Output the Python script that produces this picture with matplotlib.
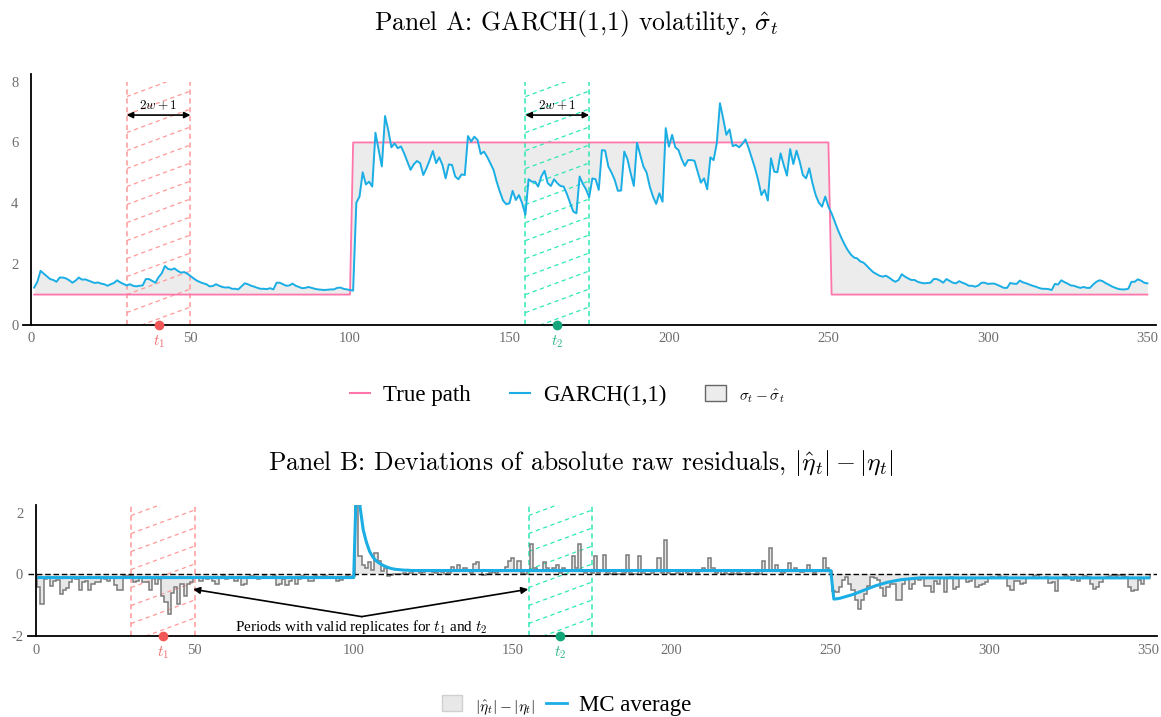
import numpy as np
import matplotlib.pyplot as plt
from matplotlib.lines import Line2D
from matplotlib.patches import Patch, Rectangle

plt.rcParams["mathtext.fontset"] = "cm"
plt.rcParams["font.family"] = ["Liberation Serif", "DejaVu Serif"]
plt.rcParams["axes.unicode_minus"] = False

# ---- data -------------------------------------------------------------
t = np.arange(1, 351)

# true volatility path: low / high / low regime
true_sigma = [1.0] * 100 + [6.0] * 150 + [1.0] * 100

# GARCH(1,1) fitted volatility
garch_sigma = [
    1.23, 1.42, 1.78, 1.69, 1.60, 1.51, 1.48, 1.42, 1.56, 1.56,
    1.53, 1.47, 1.39, 1.46, 1.56, 1.49, 1.50, 1.46, 1.42, 1.38,
    1.40, 1.36, 1.34, 1.29, 1.34, 1.38, 1.47, 1.40, 1.35, 1.30,
    1.34, 1.29, 1.27, 1.29, 1.30, 1.51, 1.51, 1.45, 1.39, 1.57,
    1.70, 1.94, 1.84, 1.82, 1.86, 1.78, 1.72, 1.74, 1.69, 1.61,
    1.53, 1.46, 1.41, 1.37, 1.34, 1.27, 1.28, 1.34, 1.29, 1.25,
    1.23, 1.24, 1.19, 1.19, 1.17, 1.27, 1.37, 1.34, 1.29, 1.26,
    1.22, 1.19, 1.19, 1.18, 1.21, 1.17, 1.39, 1.39, 1.34, 1.29,
    1.30, 1.36, 1.29, 1.25, 1.21, 1.22, 1.25, 1.22, 1.19, 1.17,
    1.16, 1.15, 1.16, 1.17, 1.17, 1.22, 1.23, 1.19, 1.17, 1.15,
    1.13, 4.02, 4.22, 5.02, 4.62, 4.71, 4.55, 6.32, 5.75, 5.21,
    6.87, 6.41, 5.84, 5.97, 5.81, 5.87, 5.64, 5.37, 5.10, 5.28,
    5.39, 5.32, 4.93, 5.15, 5.42, 5.72, 5.32, 5.51, 5.26, 4.82,
    5.28, 5.26, 4.88, 4.79, 4.95, 4.93, 6.21, 6.03, 6.19, 6.08,
    5.62, 5.70, 5.53, 5.32, 5.10, 4.71, 4.38, 4.09, 3.97, 4.00,
    4.41, 4.11, 4.27, 4.00, 3.62, 4.79, 4.71, 4.71, 4.55, 4.88,
    5.07, 4.66, 4.57, 4.79, 4.66, 4.57, 4.55, 4.31, 4.02, 3.73,
    3.67, 4.88, 4.64, 4.46, 4.20, 4.82, 4.79, 4.44, 5.75, 5.73,
    5.21, 5.01, 4.77, 4.41, 4.42, 5.70, 5.45, 4.99, 4.57, 5.99,
    5.59, 5.21, 5.01, 4.55, 4.22, 3.98, 4.33, 4.05, 6.47, 5.86,
    6.25, 5.84, 5.75, 5.45, 5.23, 5.42, 5.42, 5.40, 5.04, 4.68,
    4.82, 4.46, 5.51, 5.42, 5.97, 7.29, 6.79, 6.25, 6.43, 5.88,
    5.92, 5.84, 5.95, 6.10, 5.81, 5.48, 5.15, 4.75, 4.27, 4.44,
    4.09, 5.48, 5.04, 5.02, 5.64, 5.26, 4.91, 5.78, 5.29, 5.73,
    5.37, 4.93, 4.82, 5.15, 4.66, 4.27, 4.02, 3.89, 4.22, 3.89,
    3.67, 3.40, 3.12, 2.88, 2.66, 2.47, 2.32, 2.22, 2.19, 2.09,
    2.05, 1.95, 1.84, 1.74, 1.68, 1.62, 1.59, 1.62, 1.56, 1.48,
    1.42, 1.48, 1.67, 1.59, 1.53, 1.48, 1.48, 1.42, 1.39, 1.37,
    1.38, 1.39, 1.51, 1.51, 1.46, 1.39, 1.51, 1.45, 1.39, 1.37,
    1.44, 1.39, 1.35, 1.29, 1.29, 1.26, 1.30, 1.39, 1.39, 1.35,
    1.36, 1.36, 1.32, 1.27, 1.22, 1.22, 1.38, 1.36, 1.35, 1.46,
    1.40, 1.37, 1.33, 1.29, 1.26, 1.22, 1.19, 1.19, 1.18, 1.15,
    1.35, 1.33, 1.47, 1.41, 1.36, 1.30, 1.29, 1.25, 1.22, 1.25,
    1.22, 1.22, 1.33, 1.42, 1.47, 1.44, 1.37, 1.32, 1.26, 1.22,
    1.18, 1.17, 1.17, 1.19, 1.42, 1.42, 1.50, 1.46, 1.39, 1.37,
]

# |eta_hat_t| - |eta_t| for one replicate
resid_dev = [
    -0.41, -0.95, -0.15, -0.12, -0.36, -0.20, -0.18, -0.65, -0.50, -0.45,
    -0.25, -0.10, -0.15, -0.50, -0.25, -0.20, -0.50, -0.30, -0.25, -0.25,
    -0.12, -0.15, -0.20, -0.12, -0.35, -0.50, -0.52, -0.05, -0.05, -0.05,
    -0.25, -0.20, -0.10, -0.25, -0.25, -0.50, -0.10, -0.30, -0.15, -0.70,
    -0.90, -1.28, -0.60, -0.40, -0.95, -0.30, -0.70, -0.30, -0.25, -0.10,
    -0.12, -0.20, -0.10, -0.15, -0.08, -0.20, -0.30, -0.12, -0.05, -0.15,
    -0.12, -0.08, -0.20, -0.10, -0.35, -0.30, -0.10, -0.05, -0.08, -0.15,
    -0.12, -0.05, -0.10, -0.12, -0.05, -0.35, -0.32, -0.15, -0.35, -0.20,
    -0.10, -0.30, -0.15, -0.05, -0.10, -0.22, -0.20, -0.05, -0.10, -0.12,
    -0.05, -0.10, -0.08, -0.12, -0.20, -0.18, -0.10, -0.05, -0.12, -0.05,
    3.00, 0.60, 0.30, 0.20, 0.40, 0.15, 0.70, 0.45, 0.10, 0.20,
    -0.05, -0.02, 0.02, 0.03, 0.02, 0.05, 0.03, 0.05, 0.12, 0.10,
    0.05, 0.08, 0.15, 0.15, 0.08, 0.05, 0.10, 0.08, 0.03, 0.05,
    0.25, 0.10, 0.30, 0.10, 0.20, 0.15, 0.05, 0.35, 0.40, 0.10,
    -0.03, 0.02, 0.05, 0.08, 0.05, 0.10, 0.15, 0.25, 0.45, 0.55,
    0.10, 0.45, 0.05, 0.02, 0.10, 1.00, 0.20, 0.10, 0.15, 0.40,
    0.20, 0.10, 0.20, 0.30, 0.05, 0.20, 0.15, 0.10, 0.60, 0.20,
    1.00, 0.10, 0.05, 0.15, 0.05, 0.60, 0.05, 0.10, 0.65, 0.05,
    0.02, 0.05, 0.03, 0.02, 0.05, 0.65, 0.05, 0.02, 0.03, 0.60,
    0.05, 0.02, 0.03, 0.05, 0.10, 0.55, 0.05, 1.12, 0.05, 0.02,
    0.03, 0.05, 0.02, 0.10, 0.05, 0.02, 0.15, 0.05, 0.10, 0.20,
    0.10, 0.55, 0.20, 0.05, 0.10, 0.02, 0.05, 0.03, 0.05, 0.02,
    0.05, 0.03, 0.02, 0.05, 0.02, 0.03, 0.05, 0.02, 0.43, 0.10,
    0.85, 0.10, 0.30, 0.10, 0.05, 0.10, 0.37, 0.15, 0.20, 0.10,
    0.08, 0.10, 0.32, 0.10, 0.05, 0.10, 0.10, 0.55, 0.20, 0.10,
    -0.55, -0.57, -0.41, -0.19, -0.09, -0.30, -0.52, -0.84, -1.13, -0.84,
    -0.63, -0.36, -0.09, -0.12, -0.17, -0.45, -0.71, -0.41, -0.30, -0.30,
    -0.84, -0.84, -0.30, -0.15, -0.46, -0.30, -0.10, -0.19, -0.12, -0.36,
    -0.36, -0.57, -0.20, -0.30, -0.10, -0.57, -0.10, -0.08, -0.46, -0.40,
    -0.10, -0.10, -0.25, -0.20, -0.10, -0.41, -0.35, -0.30, -0.25, -0.10,
    -0.08, -0.10, -0.05, -0.10, -0.08, -0.36, -0.50, -0.22, -0.20, -0.30,
    -0.28, -0.10, -0.10, -0.05, -0.03, -0.10, -0.10, -0.08, -0.28, -0.25,
    -0.54, -0.12, -0.10, -0.05, -0.08, -0.19, -0.08, -0.22, -0.12, -0.05,
    -0.08, -0.30, -0.46, -0.40, -0.25, -0.10, -0.07, -0.06, -0.03, -0.05,
    -0.03, -0.05, -0.08, -0.41, -0.55, -0.50, -0.19, -0.30, -0.12, -0.10,
]

# Monte Carlo average of the same deviation
mc_average = (
    [-0.10] * 100
    + [3.50, 2.20, 1.45, 1.05, 0.75, 0.57, 0.45, 0.37, 0.31, 0.26,
       0.22, 0.19, 0.17, 0.16, 0.15, 0.14, 0.14, 0.13, 0.13, 0.13]
    + [0.13] * 130
    + [-0.80, -0.79, -0.77, -0.74, -0.71, -0.68, -0.65, -0.61, -0.57, -0.53,
       -0.49, -0.45, -0.41, -0.37, -0.34, -0.31, -0.28, -0.25, -0.23, -0.21,
       -0.19, -0.17, -0.16, -0.15, -0.14, -0.13, -0.12]
    + [-0.11] * 73
)

T1, T2, W = 40, 165, 10
xticks = [0, 50, 100, 150, 200, 250, 300, 350]

# ---- style ------------------------------------------------------------
PINK = "#ff77aa"
BLUE = "#1aaee5"
HATCH_RED = "#ff9a9a"
HATCH_GREEN = "#2ee8b6"
DOT_RED = "#f25757"
DOT_GREEN = "#13a67a"
TICK_GRAY = "#6e6e6e"

W_PX, H_PX = 1161, 717
fig = plt.figure(figsize=(W_PX / 100, H_PX / 100), dpi=100)

axA = fig.add_axes([23 / W_PX, (H_PX - 325) / H_PX, 1133 / W_PX, 251 / H_PX])
axB = fig.add_axes([27.75 / W_PX, (H_PX - 636) / H_PX, 1129.5 / W_PX, 130.7 / H_PX])


def style_axes(ax, ylim, yticks, xpad, ypad):
    ax.set_xlim(-2.5, 352.7)
    ax.set_ylim(*ylim)
    ax.autoscale(False)
    for side in ("top", "right"):
        ax.spines[side].set_visible(False)
    ax.spines["left"].set_position(("data", 0))
    for side in ("left", "bottom"):
        ax.spines[side].set_linewidth(1.3)
        ax.spines[side].set_color("black")
    ax.set_xticks(xticks)
    ax.set_yticks(yticks)
    ax.tick_params(axis="x", length=0, pad=xpad, labelsize=10.5, labelcolor=TICK_GRAY)
    ax.tick_params(axis="y", length=0, pad=ypad, labelsize=10.5, labelcolor=TICK_GRAY)
    ax.patch.set_visible(False)


def shade_window(ax, lo, hi, top, color):
    """Dashed outline plus dashed diagonal hatching for a replicate window."""
    pos = ax.get_position()
    x0, x1 = ax.get_xlim()
    y0, y1 = ax.get_ylim()
    dx = (x1 - x0) / (pos.width * W_PX)
    dy = (y1 - y0) / (pos.height * H_PX)
    bottom = y0
    clip = Rectangle((lo, bottom), hi - lo, top - bottom, transform=ax.transData,
                     fill=False, lw=0)
    ax.add_patch(clip)
    slope = 0.37 * dy / dx
    gap = 18 * dy
    start = bottom - slope * (hi - lo)
    n = int((top - start) / gap) + 2
    for k in range(n):
        yy = start + k * gap
        ln, = ax.plot([lo, hi], [yy, yy + slope * (hi - lo)], color=color, lw=0.9,
                      dashes=(3.4, 2.8), zorder=1.5)
        ln.set_clip_path(clip)
    for x in (lo, hi):
        ax.plot([x, x], [bottom, top], color=color, lw=1.1, dashes=(3.4, 2.4),
                zorder=1.6, clip_on=False)


def mark_time(ax, tt, y, label, dot_color, text_color, offset):
    ax.plot([tt], [y], "o", ms=6, color=dot_color, zorder=6, clip_on=False)
    ax.annotate(label, xy=(tt, y), xytext=(0, offset), textcoords="offset points",
                ha="center", va="top", fontsize=11, color=text_color)


# ---- Panel A ----------------------------------------------------------
style_axes(axA, (0, 8.25), [0, 2, 4, 6, 8], xpad=5, ypad=9)
axA.fill_between(t, true_sigma, garch_sigma, color="#ececec", lw=0, zorder=0.5)
axA.plot(t, true_sigma, color=PINK, lw=1.3, zorder=2)
axA.plot(t, garch_sigma, color=BLUE, lw=1.4, zorder=3)
axA.axhline(0, color="black", lw=1.0, dashes=(4, 2), zorder=4)

for tt, col in ((T1, HATCH_RED), (T2, HATCH_GREEN)):
    shade_window(axA, tt - W, tt + W, 8.0, col)
    axA.annotate("", xy=(tt - W, 6.9), xytext=(tt + W, 6.9),
                 arrowprops=dict(arrowstyle="<|-|>", color="black", lw=1.2,
                                 mutation_scale=9, shrinkA=0, shrinkB=0), zorder=5)
    axA.text(tt, 6.98, "$2w+1$", ha="center", va="bottom", fontsize=9.5)

mark_time(axA, T1, 0, "$t_1$", DOT_RED, "#f07070", -6)
mark_time(axA, T2, 0, "$t_2$", DOT_GREEN, "#2bb58a", -6)

# ---- Panel B ----------------------------------------------------------
style_axes(axB, (-2, 2.25), [-2, 0, 2], xpad=6, ypad=9)
edges = np.arange(0.5, 351.5, 1.0)
axB.stairs(resid_dev, edges, baseline=0, fill=True, color="#e8e8e8", zorder=1)
axB.stairs(resid_dev, edges, baseline=0, fill=False, edgecolor="#7a7a7a", lw=1.1, zorder=2)
axB.axhline(0, color="black", lw=1.0, dashes=(4, 2), zorder=3)
axB.plot(t, mc_average, color=BLUE, lw=2.2, zorder=4)

for tt, col in ((T1, HATCH_RED), (T2, HATCH_GREEN)):
    shade_window(axB, tt - W, tt + W, 2.25, col)

mark_time(axB, T1, -2, "$t_1$", DOT_RED, "#f07070", -6)
mark_time(axB, T2, -2, "$t_2$", DOT_GREEN, "#2bb58a", -6)

for tip in ((T1 + W - 0.5, -0.48), (T2 - W - 0.1, -0.48)):
    axB.annotate("", xy=tip, xytext=(102.5, -1.37),
                 arrowprops=dict(arrowstyle="-|>", color="black", lw=1.2,
                                 mutation_scale=10, shrinkA=0, shrinkB=0), zorder=5)
axB.text(102.5, -1.71, "Periods with valid replicates for $t_1$ and $t_2$",
         ha="center", va="center", fontsize=11)

# ---- titles -----------------------------------------------------------
fig.text(0.4966, 0.958, r"Panel A: GARCH(1,1) volatility, $\hat{\sigma}_t$",
         ha="center", va="baseline", fontsize=18.5, family="cmr10")
fig.text(0.5004, 0.3445, r"Panel B: Deviations of absolute raw residuals, $|\hat{\eta}_t| - |\eta_t|$",
         ha="center", va="baseline", fontsize=18.5, family="cmr10")

# ---- legends ----------------------------------------------------------
handles_a = [
    Line2D([], [], color=PINK, lw=1.5),
    Line2D([], [], color=BLUE, lw=1.5),
    Patch(facecolor="#ececec", edgecolor="#666666", lw=1.0),
]
leg_a = fig.legend(handles_a, ["True path", "GARCH(1,1)", r"$\sigma_t - \hat{\sigma}_t$"],
                   loc="center", bbox_to_anchor=(0.4884, 0.449), ncol=3, frameon=False,
                   fontsize=16.5, handlelength=0.9, handletextpad=0.55, columnspacing=1.7)
leg_a.get_texts()[2].set_fontsize(11)

handles_b = [
    Patch(facecolor="#e8e8e8", edgecolor="#d0d0d0", lw=1.0),
    Line2D([], [], color=BLUE, lw=2.0),
]
leg_b = fig.legend(handles_b, [r"$|\hat{\eta}_t| - |\eta_t|$", "MC average"],
                   loc="center", bbox_to_anchor=(0.488, 0.0153), ncol=2, frameon=False,
                   fontsize=16.5, handlelength=0.9, handletextpad=0.55, columnspacing=0.5)
leg_b.get_texts()[0].set_fontsize(11)

fig.savefig("out.png", dpi=100)
